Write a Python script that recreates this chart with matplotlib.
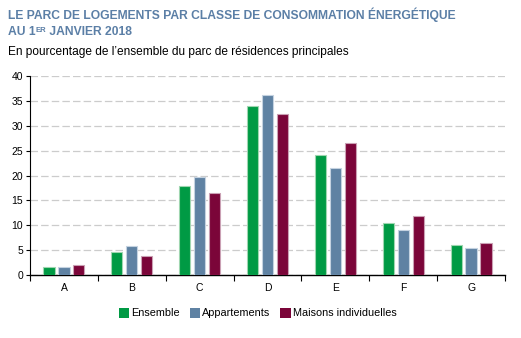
import matplotlib
matplotlib.use("Agg")
import matplotlib.pyplot as plt
import numpy as np

plt.rcParams['font.family'] = ['Liberation Sans', 'DejaVu Sans']

classes = ['A', 'B', 'C', 'D', 'E', 'F', 'G']
ensemble = [1.7, 4.7, 17.9, 34.0, 24.2, 10.5, 6.0]
appartements = [1.7, 5.8, 19.6, 36.1, 21.6, 9.1, 5.4]
maisons = [2.0, 3.9, 16.5, 32.3, 26.5, 11.9, 6.4]
series_names = ['Ensemble', 'Appartements', 'Maisons individuelles']
yticks = [0, 5, 10, 15, 20, 25, 30, 35, 40]

colors = ['#009a44', '#5f82a3', '#7b0539']
edges = ['#9fd6b0', '#c4d2e0', '#caa0b4']
title_col = '#5b7fa6'

fig = plt.figure(figsize=(5.21, 3.38), dpi=100)
ax = fig.add_axes([30/521, (338-275)/338, (505-30)/521, (275-76)/338])

x = np.arange(len(classes))
w = 0.165
step = 0.22
for i, (vals, name) in enumerate(zip([ensemble, appartements, maisons], series_names)):
    ax.bar(x + (i-1)*step, vals, width=w, color=colors[i], edgecolor=edges[i],
           linewidth=0.8, label=name, zorder=3)

ax.set_xlim(-0.5, len(classes)-0.5)
ax.set_ylim(0, 40)
ax.set_yticks(yticks)
ax.set_yticklabels([str(v) for v in yticks], fontsize=7.5)
ax.yaxis.grid(True, color='#cccccc', linestyle=(0, (6, 2.5)), linewidth=0.9, zorder=0)
ax.set_xticks(np.arange(len(classes)+1) - 0.5)
ax.set_xticklabels([])
ax.set_xticks(x, minor=True)
ax.set_xticklabels(classes, minor=True, fontsize=7.5)
ax.tick_params(axis='x', which='major', length=4, width=0.8, direction='out')
ax.tick_params(axis='x', which='minor', length=0, pad=6)
ax.tick_params(axis='y', length=3, width=0.8, pad=2)
for s in ['top', 'right']:
    ax.spines[s].set_visible(False)
ax.spines['left'].set_linewidth(0.8)
ax.spines['bottom'].set_linewidth(1.0)

leg = fig.legend(loc='center', bbox_to_anchor=(0.495, 1-313/338), ncol=3, frameon=False,
                 fontsize=7.8, handlelength=0.95, handleheight=1.1, handletextpad=0.2,
                 columnspacing=0.9)
for h in leg.legend_handles:
    h.set_edgecolor('none')

t1 = fig.text(8/521, 1-19/338, "LE PARC DE LOGEMENTS PAR CLASSE DE CONSOMMATION ÉNERGÉTIQUE",
              fontsize=8.7, fontweight='bold', color=title_col, va='baseline')
t2 = fig.text(8/521, 1-35/338, "AU 1", fontsize=8.7, fontweight='bold', color=title_col, va='baseline')
t3 = fig.text(0, 0, "ER", fontsize=5.5, fontweight='bold', color=title_col, va='baseline')
t4 = fig.text(0, 0, " JANVIER 2018", fontsize=8.7, fontweight='bold', color=title_col, va='baseline')
fig.canvas.draw()
r = fig.canvas.get_renderer()
bb = t2.get_window_extent(r)
t3.set_position((bb.x1/fig.bbox.width, (bb.y0 + 6)/fig.bbox.height))
bb3 = t3.get_window_extent(r)
t4.set_position((bb3.x1/fig.bbox.width, t2.get_position()[1]))
fig.text(8/521, 1-55/338, "En pourcentage de l’ensemble du parc de résidences principales",
         fontsize=8.6, color='black', va='baseline')

fig.savefig('out.png', dpi=100)
